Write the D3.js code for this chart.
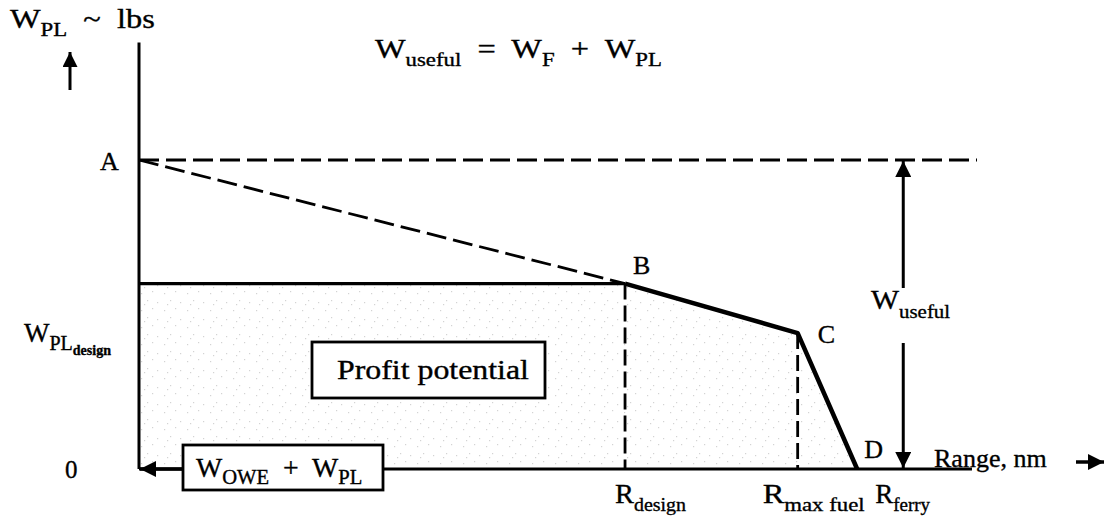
<!DOCTYPE html>
<html>
<head>
<meta charset="utf-8">
<script src="https://cdn.jsdelivr.net/npm/d3@7"></script>
<style>
  body { margin: 0; background: #fff; }
  svg { font-family: "Liberation Serif", "DejaVu Serif", serif; }
  text { fill: #000; stroke: #000; stroke-width: 0.35; }
  .axis-line { stroke: #000; stroke-width: 3; fill: none; }
  .dash { stroke: #000; stroke-width: 2.8; fill: none; }
  .curve { stroke: #000; stroke-width: 4.5; fill: none; stroke-linejoin: round; }
</style>
</head>
<body>
<script>
// payload-range diagram, abstract units (range 0..100, payload 0..100 at A)
const pointNames = ["A", "B", "C", "D"];
const pointRange = [0, 58, 78.6, 85.7];
const pointPayload = [100, 60, 44, 0];
const rangeLabels = ["design", "max fuel", "ferry"];
const usefulX = 91.2;
const axisMaxX = 99.4, axisMaxY = 138;

const width = 1107, height = 518;
const x = d3.scaleLinear().domain([0, 100]).range([139, 977]);
const y = d3.scaleLinear().domain([0, 100]).range([469, 160]);

const svg = d3.select("body").append("svg")
  .attr("width", width).attr("height", height);

const defs = svg.append("defs");
function arrowHead(id, w, h) {
  defs.append("marker")
    .attr("id", id)
    .attr("viewBox", "0 0 10 10")
    .attr("refX", 10).attr("refY", 5)
    .attr("markerUnits", "userSpaceOnUse")
    .attr("markerWidth", w).attr("markerHeight", h)
    .attr("orient", "auto")
    .append("path").attr("d", "M0,0 L10,5 L0,10 z").attr("fill", "#000");
}
arrowHead("head", 20, 15);
arrowHead("headBig", 22, 16);

// faint stipple under the curve
const pat = defs.append("pattern").attr("id", "stip")
  .attr("width", 23).attr("height", 17).attr("patternUnits", "userSpaceOnUse");
[[3, 4], [14, 2], [9, 11], [19, 13], [6, 15]].forEach(p =>
  pat.append("rect").attr("x", p[0]).attr("y", p[1]).attr("width", 1.2).attr("height", 1.2).attr("fill", "#c8c8c8"));

const area = [[0, 0], [0, pointPayload[1]], [pointRange[1], pointPayload[1]],
  [pointRange[2], pointPayload[2]], [pointRange[3], 0]];
svg.append("path")
  .attr("d", d3.line().x(d => x(d[0])).y(d => y(d[1]))(area) + "Z")
  .attr("fill", "url(#stip)").attr("opacity", 0.8);

// axes
svg.append("line").attr("class", "axis-line")
  .attr("x1", x(0)).attr("y1", y(axisMaxY)).attr("x2", x(0)).attr("y2", y(0));
svg.append("line").attr("class", "axis-line")
  .attr("x1", x(0)).attr("y1", y(0)).attr("x2", x(axisMaxX)).attr("y2", y(0));

// dashed lines
svg.append("line").attr("class", "dash").attr("stroke-dasharray", "20,7")
  .attr("x1", x(0)).attr("y1", y(100)).attr("x2", x(100)).attr("y2", y(100));
svg.append("line").attr("class", "dash").attr("stroke-dasharray", "20,7")
  .attr("x1", x(0)).attr("y1", y(100)).attr("x2", x(pointRange[1])).attr("y2", y(pointPayload[1]));
[1, 2].forEach(i => {
  svg.append("line").attr("class", "dash").attr("stroke-dasharray", "16,6")
    .attr("x1", x(pointRange[i])).attr("y1", y(pointPayload[i]))
    .attr("x2", x(pointRange[i])).attr("y2", y(0));
});

// design payload line and B-C-D curve
svg.append("line").attr("stroke", "#000").attr("stroke-width", 3.2)
  .attr("x1", x(0)).attr("y1", y(pointPayload[1]))
  .attr("x2", x(pointRange[1])).attr("y2", y(pointPayload[1]));
svg.append("path").attr("class", "curve")
  .attr("d", d3.line().x((d, i) => x(pointRange[i + 1])).y((d, i) => y(pointPayload[i + 1]))([0, 0, 0]));

// point labels
const ptOffsets = [[-39, 10], [8, -10], [20, 10], [7, -11]];
pointNames.forEach((n, i) => {
  svg.append("text").attr("x", x(pointRange[i]) + ptOffsets[i][0])
    .attr("y", y(pointPayload[i]) + ptOffsets[i][1])
    .attr("font-size", 26).text(n);
});

// helper for subscripted text, sx stretches it sideways like the scan
function subText(px, py, parts, size, sx) {
  const g = svg.append("g").attr("transform", `translate(${px},${py}) scale(${sx || 1},1)`);
  const t = g.append("text").attr("x", 0).attr("y", 0).attr("font-size", size);
  let shift = 0;
  parts.forEach(p => {
    const dy = p.dy - shift;
    shift = p.dy;
    t.append("tspan").attr("dy", dy).attr("font-size", p.size || size)
      .attr("xml:space", "preserve").text(p.t);
  });
  return t;
}

// y axis label and arrow
subText(10, 28, [{ t: "W", dy: 0 }, { t: "PL", dy: 8, size: 19 }, { t: "  ~  lbs", dy: 0 }], 27, 1.2);
svg.append("line").attr("stroke", "#000").attr("stroke-width", 3)
  .attr("x1", 70).attr("y1", 90).attr("x2", 70).attr("y2", 52)
  .attr("marker-end", "url(#head)");

// title formula
subText(375, 58, [{ t: "W", dy: 0 }, { t: "useful", dy: 8, size: 19 }, { t: "  =  W", dy: 0 },
  { t: "F", dy: 8, size: 19 }, { t: "  +  W", dy: 0 }, { t: "PL", dy: 8, size: 19 }], 27, 1.2);

// W_PL design
subText(24, 342, [{ t: "W", dy: 0 }, { t: "PL", dy: 8, size: 20 }, { t: "design", dy: 13, size: 14 }], 27)
  .select("tspan:last-child").attr("font-weight", "bold");

// zero
svg.append("text").attr("x", 65).attr("y", y(0) + 9).attr("font-size", 25).text("0");

// W useful arrows
svg.append("line").attr("stroke", "#000").attr("stroke-width", 3)
  .attr("x1", x(usefulX)).attr("y1", 288).attr("x2", x(usefulX)).attr("y2", y(100) + 1)
  .attr("marker-end", "url(#headBig)");
svg.append("line").attr("stroke", "#000").attr("stroke-width", 3)
  .attr("x1", x(usefulX)).attr("y1", 343).attr("x2", x(usefulX)).attr("y2", y(0) - 1)
  .attr("marker-end", "url(#headBig)");
subText(871, 309, [{ t: "W", dy: 0 }, { t: "useful", dy: 9, size: 19 }], 27, 1.1);

// Profit potential box
svg.append("rect").attr("x", 312).attr("y", 342).attr("width", 233).attr("height", 56)
  .attr("fill", "#fff").attr("stroke", "#000").attr("stroke-width", 2.8);
subText(337, 379, [{ t: "Profit potential", dy: 0 }], 27, 1.18);

// W_OWE + W_PL box and arrow to axis
svg.append("line").attr("stroke", "#000").attr("stroke-width", 3.5)
  .attr("x1", 183).attr("y1", y(0)).attr("x2", x(0) + 1).attr("y2", y(0))
  .attr("marker-end", "url(#headBig)");
svg.append("rect").attr("x", 183).attr("y", 445).attr("width", 200).attr("height", 45)
  .attr("fill", "#fff").attr("stroke", "#000").attr("stroke-width", 2.8);
subText(196, 477, [{ t: "W", dy: 0 }, { t: "OWE", dy: 7, size: 20 }, { t: "  +  W", dy: 0 },
  { t: "PL", dy: 7, size: 20 }], 27, 1.03);

// Range axis label
svg.append("text").attr("x", 934).attr("y", 467).attr("font-size", 26).text("Range, nm");
svg.append("line").attr("stroke", "#000").attr("stroke-width", 3.5)
  .attr("x1", 1076).attr("y1", 462).attr("x2", 1104).attr("y2", 462)
  .attr("marker-end", "url(#headBig)");

// range labels
const rLabelX = [x(pointRange[1]) - 10, x(pointRange[2]) - 35, x(pointRange[3]) + 18];
const rStretch = [1.05, 1.2, 1];
rangeLabels.forEach((r, i) => {
  subText(rLabelX[i], 503, [{ t: "R", dy: 0 }, { t: r, dy: 8, size: 19 }], 27, rStretch[i]);
});
</script>
</body>
</html>
